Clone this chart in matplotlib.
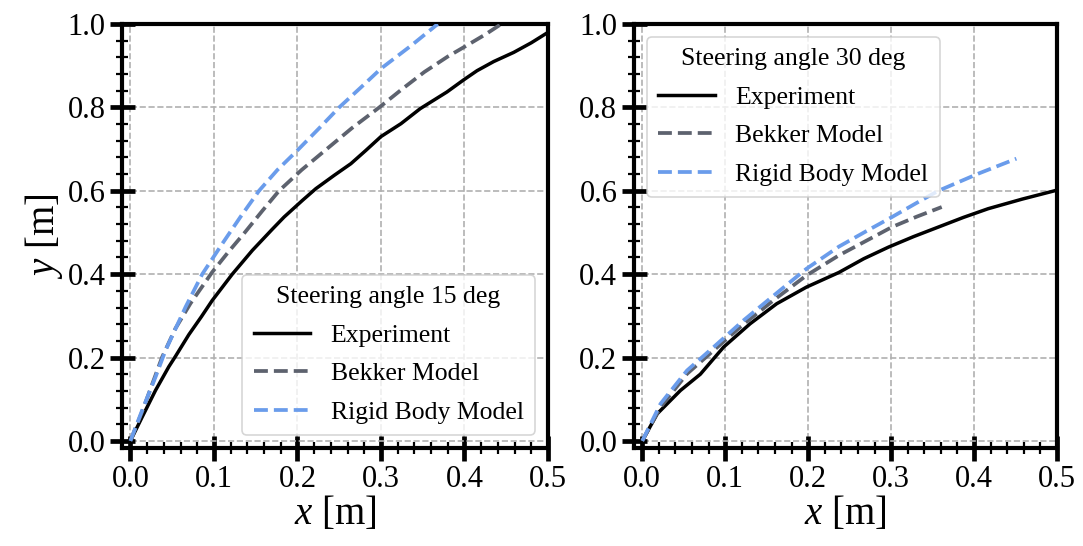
import matplotlib
matplotlib.use("Agg")
import matplotlib.pyplot as plt
from matplotlib.ticker import MultipleLocator

plt.rcParams['font.family'] = ['Liberation Serif', 'DejaVu Serif']
plt.rcParams['mathtext.fontset'] = 'custom'
plt.rcParams['mathtext.rm'] = 'Liberation Serif'
plt.rcParams['mathtext.it'] = 'Liberation Serif:italic'

# ---- data: steering angle 15 deg ----
exp15_x = [0.0, 0.014, 0.030, 0.046, 0.054, 0.070, 0.085, 0.098, 0.122, 0.146, 0.170, 0.184,
           0.206, 0.222, 0.244, 0.264, 0.282, 0.300, 0.324, 0.347, 0.379, 0.399, 0.415,
           0.435, 0.459, 0.480, 0.500]
exp15_y = [0.0, 0.057, 0.121, 0.178, 0.203, 0.255, 0.298, 0.337, 0.400, 0.457, 0.508, 0.537,
           0.577, 0.605, 0.637, 0.665, 0.697, 0.730, 0.761, 0.797, 0.837, 0.866, 0.888,
           0.910, 0.932, 0.955, 0.980]
bek15_x = [0.0, 0.014, 0.038, 0.054, 0.072, 0.098, 0.118, 0.137, 0.158, 0.178, 0.205, 0.235,
           0.265, 0.298, 0.326, 0.352, 0.380, 0.404, 0.425, 0.444]
bek15_y = [0.0, 0.070, 0.201, 0.270, 0.330, 0.405, 0.455, 0.500, 0.552, 0.600, 0.650, 0.700,
           0.750, 0.800, 0.845, 0.885, 0.922, 0.950, 0.975, 1.000]
rig15_x = [0.0, 0.014, 0.030, 0.042, 0.066, 0.086, 0.110, 0.132, 0.154, 0.176, 0.200, 0.226,
           0.250, 0.276, 0.300, 0.336, 0.368]
rig15_y = [0.0, 0.073, 0.153, 0.217, 0.321, 0.400, 0.473, 0.538, 0.600, 0.650, 0.697, 0.750,
           0.800, 0.848, 0.893, 0.948, 1.000]

# ---- data: steering angle 30 deg ----
exp30_x = [0.0, 0.018, 0.046, 0.070, 0.098, 0.130, 0.162, 0.198, 0.237, 0.267, 0.297, 0.327,
           0.357, 0.387, 0.417, 0.458, 0.499]
exp30_y = [0.0, 0.065, 0.121, 0.160, 0.225, 0.281, 0.329, 0.369, 0.404, 0.437, 0.465, 0.490,
           0.513, 0.536, 0.557, 0.580, 0.601]
bek30_x = [0.0, 0.022, 0.054, 0.086, 0.118, 0.158, 0.198, 0.237, 0.270, 0.301, 0.331, 0.361]
bek30_y = [0.0, 0.081, 0.161, 0.217, 0.273, 0.337, 0.397, 0.445, 0.480, 0.513, 0.538, 0.561]
rig30_x = [0.0, 0.022, 0.054, 0.086, 0.122, 0.166, 0.198, 0.237, 0.270, 0.301, 0.330, 0.357,
           0.405, 0.451]
rig30_y = [0.0, 0.089, 0.169, 0.225, 0.289, 0.361, 0.413, 0.466, 0.503, 0.537, 0.570, 0.600,
           0.641, 0.677]

titles = ['Steering angle 15 deg', 'Steering angle 30 deg']
labels = ['Experiment', 'Bekker Model', 'Rigid Body Model']
xticks = [0.0, 0.1, 0.2, 0.3, 0.4, 0.5]
yticks = [0.0, 0.2, 0.4, 0.6, 0.8, 1.0]

c_exp = 'black'
c_bek = '#5d626e'
c_rig = '#6a9ceb'

fig = plt.figure(figsize=(10.83, 5.46), dpi=100)
ax1 = fig.add_axes([0.1127, 0.1795, 0.3933, 0.7765])
ax2 = fig.add_axes([0.5854, 0.1795, 0.3906, 0.7765])

datasets = [
    (exp15_x, exp15_y, bek15_x, bek15_y, rig15_x, rig15_y),
    (exp30_x, exp30_y, bek30_x, bek30_y, rig30_x, rig30_y),
]
locs = ['lower right', 'upper left']

for i, (ax, d) in enumerate(zip([ax1, ax2], datasets)):
    ex, ey, bx, by, rx, ry = d
    ax.plot(ex, ey, color=c_exp, lw=2.5, label=labels[0], zorder=3,
            solid_joinstyle='round')
    ax.plot(bx, by, color=c_bek, lw=2.7, ls='--', label=labels[1], zorder=3)
    ax.plot(rx, ry, color=c_rig, lw=2.7, ls='--', label=labels[2], zorder=3)
    ax.set_xlim(-0.01, 0.5)
    ax.set_ylim(-0.017, 1.0)
    ax.set_xticks(xticks)
    ax.set_yticks(yticks)
    ax.set_xticklabels([f'{v:.1f}' for v in xticks])
    ax.set_yticklabels([f'{v:.1f}' for v in yticks])
    ax.xaxis.set_minor_locator(MultipleLocator(0.02))
    ax.yaxis.set_minor_locator(MultipleLocator(0.04))
    ax.tick_params(which='major', direction='inout', length=18, width=3.4,
                   labelsize=22, top=False, right=False, pad=3)
    ax.tick_params(which='minor', direction='inout', length=8.5, width=1.6,
                   top=False, right=False)
    for s in ax.spines.values():
        s.set_linewidth(3.0)
    ax.grid(True, which='major', ls='--', color='#b0b0b0', lw=1.2, zorder=0)
    ax.set_xlabel('$x$ [m]', fontsize=28, labelpad=1)
    leg = ax.legend(loc=locs[i], title=titles[i], fontsize=18.5, title_fontsize=18.5,
                    handlelength=2.2, borderpad=0.45, labelspacing=0.6)
    leg.get_frame().set_linewidth(1.2)

ax1.set_ylabel('$y$ [m]', fontsize=28, labelpad=2)

fig.savefig('out.png', dpi=100)
